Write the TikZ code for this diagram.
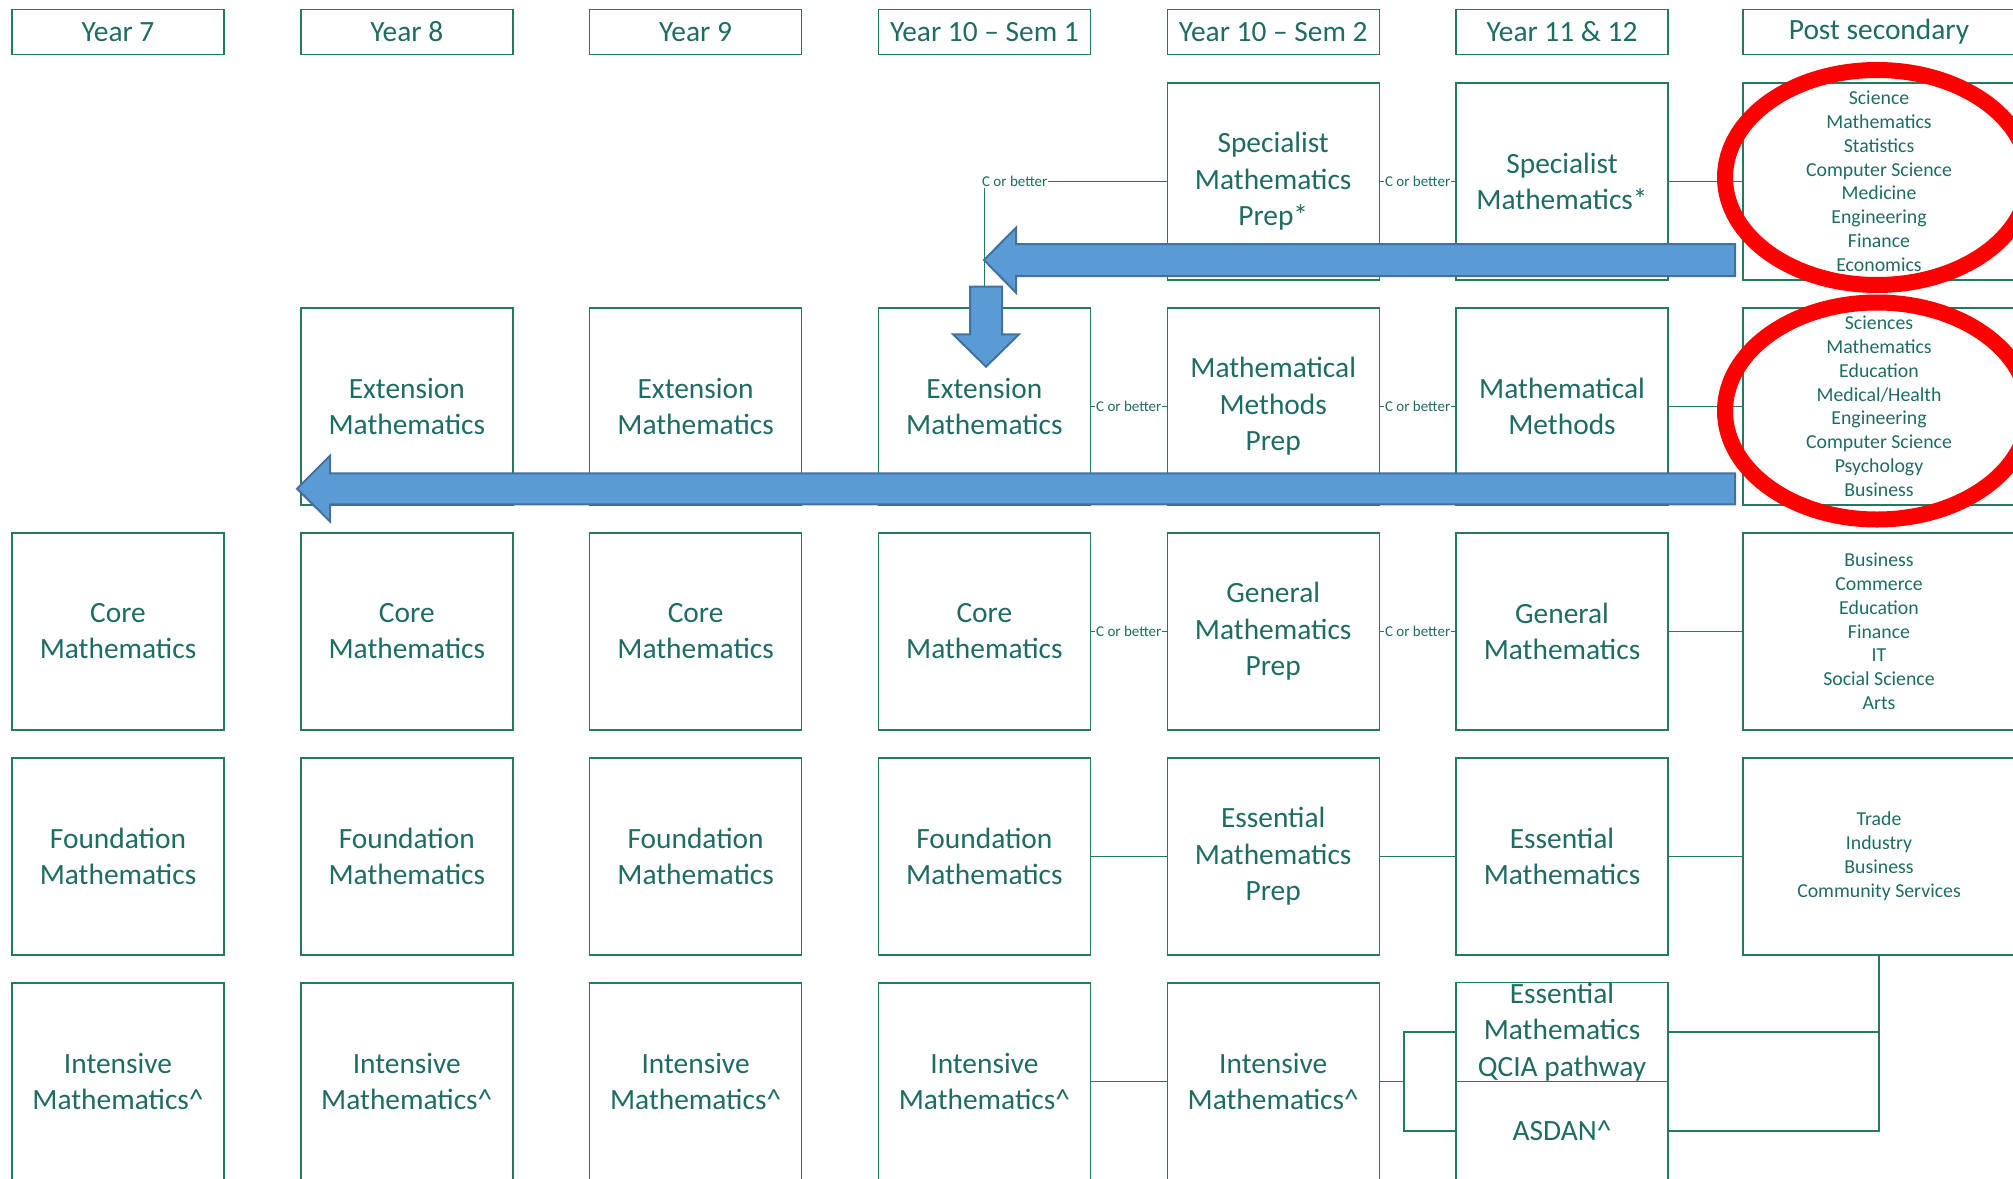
\documentclass[tikz,border=0pt]{standalone}
\usepackage{fontspec}
\setmainfont{Carlito}
\usetikzlibrary{calc}

\definecolor{boxgreen}{RGB}{35,122,92}
\definecolor{textgreen}{RGB}{30,108,98}
\definecolor{arrowblue}{RGB}{91,155,213}
\definecolor{arrowedge}{RGB}{65,113,156}

\begin{document}
\begin{tikzpicture}[x=1pt,y=-1pt,
  course/.style={draw=boxgreen, line width=1.4pt, minimum width=212pt, minimum height=197pt,
    inner sep=0pt, align=center, text=textgreen, font=\fontsize{29.4}{36.3}\selectfont},
  heading/.style={course, minimum height=45pt},
  dest/.style={course, minimum width=272pt, font=\fontsize{19.8}{23.8}\selectfont},
  link/.style={draw=boxgreen, line width=1.4pt},
  cob/.style={fill=white, inner sep=1pt, text=textgreen, font=\fontsize{15}{18}\selectfont},
  bigarrow/.style={fill=arrowblue, draw=arrowedge, line width=2pt},
  ring/.style={draw=red, line width=16pt}]
\useasboundingbox (0,0) rectangle (2013,1178);

% year headings
\foreach\x/\n/\t in {118/y7/Year 7, 406.8/y8/Year 8, 695.6/y9/Year 9, 984.4/y10a/Year 10 – Sem 1,
    1273.2/y10b/Year 10 – Sem 2, 1562/y11/Year 11 \& 12}
  {
  \node[heading] (\n) at (\x,31.7) {\t};
  }
\node[heading, minimum width=272pt] (post) at (1879,31.7) {Post secondary};

% courses, years 7 to 10
\foreach\x/\c in {406.8/2, 695.6/3, 984.4/4}
  {
  \node[course] (ext\c) at (\x,406.3) {Extension\\Mathematics};
  }
\foreach\x/\c in {118/1, 406.8/2, 695.6/3, 984.4/4}
  {
  \node[course] (core\c) at (\x,631.3) {Core\\Mathematics};
  \node[course] (found\c) at (\x,856.3) {Foundation\\Mathematics};
  \node[course] (int\c) at (\x,1081.3) {Intensive\\Mathematics\textasciicircum};
  }

% year 10 sem 2 and year 11 & 12
\node[course] (smp5) at (1273.2,181.3) {Specialist\\Mathematics\\Prep*};
\node[course] (sm6) at (1562,181.3) {Specialist\\Mathematics*};
\node[course] (mmp5) at (1273.2,406.3) {Mathematical\\Methods\\Prep};
\node[course] (mm6) at (1562,406.3) {Mathematical\\Methods};
\node[course] (gmp5) at (1273.2,631.3) {General\\Mathematics\\Prep};
\node[course] (gm6) at (1562,631.3) {General\\Mathematics};
\node[course] (emp5) at (1273.2,856.3) {Essential\\Mathematics\\Prep};
\node[course] (em6) at (1562,856.3) {Essential\\Mathematics};
\node[course] (int5) at (1273.2,1081.3) {Intensive\\Mathematics\textasciicircum};
\node[course, minimum height=99pt] (qcia) at (1562,1032) {};
\node[align=center, text=textgreen, font=\fontsize{29.4}{36.3}\selectfont] at (qcia.center)
  {Essential\\Mathematics\\QCIA pathway};
\node[course, minimum height=99pt] (asdan) at (1562,1131) {ASDAN\textasciicircum};

% post secondary
\node[dest] (post1) at (1879,181.3) {Science\\Mathematics\\Statistics\\Computer Science\\Medicine\\Engineering\\Finance\\Economics};
\node[dest] (post2) at (1879,406.3) {Sciences\\Mathematics\\Education\\Medical/Health\\Engineering\\Computer Science\\Psychology\\Business};
\node[dest] (post3) at (1879,631.3) {Business\\Commerce\\Education\\Finance\\IT\\Social Science\\Arts};
\node[dest] (post4) at (1879,856.3) {Trade\\Industry\\Business\\Community Services};

% pathways
\draw[link] (ext4.north) -- (ext4.north |- smp5.west) node[cob, anchor=west, xshift=-4pt] {C or better} -- (smp5.west);
\draw[link] (smp5) -- node[cob] {C or better} (sm6);
\draw[link] (sm6) -- (post1);
\draw[link] (ext4) -- node[cob] {C or better} (mmp5);
\draw[link] (mmp5) -- node[cob] {C or better} (mm6);
\draw[link] (mm6) -- (post2);
\draw[link] (core4) -- node[cob] {C or better} (gmp5);
\draw[link] (gmp5) -- node[cob] {C or better} (gm6);
\draw[link] (gm6) -- (post3);
\draw[link] (found4) -- (emp5);
\draw[link] (emp5) -- (em6);
\draw[link] (em6) -- (post4);
\draw[link] (int4) -- (int5);
\coordinate (split) at (1404,1081.3);
\draw[link] (int5) -- (split);
\draw[link] (qcia.west) -| (split) |- (asdan.west);
\draw[link] (qcia.east) -- (qcia.east -| post4.south);
\draw[link] (post4.south) |- (asdan.east);

% blue arrows
\draw[bigarrow] (1735,244) -- (1016,244) -- (1016,227.7) -- (984,260) -- (1016,292.7) -- (1016,276) -- (1735,276) -- cycle;
\draw[bigarrow] (970,286.7) -- (1002,286.7) -- (1002,334.3) -- (1019,334.3) -- (986,366.7) -- (953,334.3) -- (970,334.3) -- cycle;
\draw[bigarrow] (1735,473.3) -- (330,473.3) -- (330,455.7) -- (297,488.7) -- (330,521.5) -- (330,504.3) -- (1735,504.3) -- cycle;

% red rings
\draw[ring] (1877,177.5) ellipse [x radius=152pt, y radius=107.5pt];
\draw[ring] (1877,411) ellipse [x radius=152pt, y radius=108.5pt];

\end{tikzpicture}
\end{document}
